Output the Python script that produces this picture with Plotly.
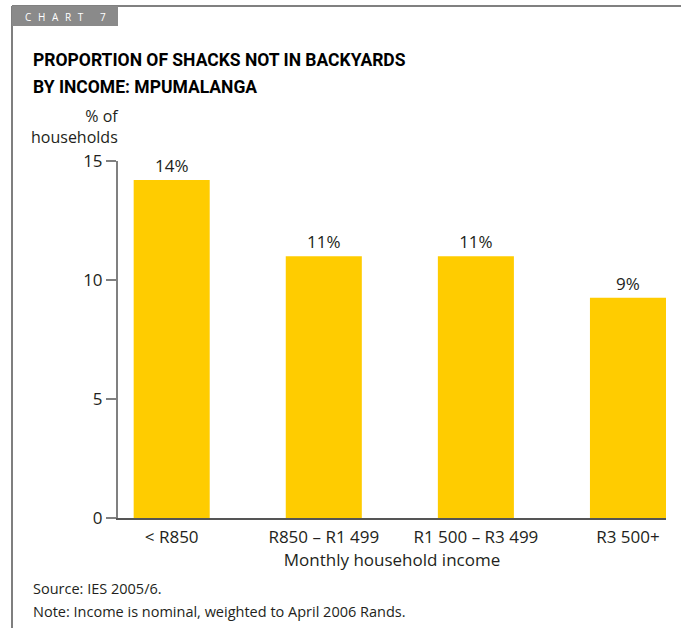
import plotly.graph_objects as go

categories = ["< R850", "R850 – R1 499", "R1 500 – R3 499", "R3 500+"]
values = [14.2, 11.0, 11.0, 9.25]
labels = ["14%", "11%", "11%", "9%"]
y_ticks = [0, 5, 10, 15]

FONT = "Open Sans"
TXT = "#231f20"

# plot-area geometry in pixels (for placing paper-referenced decorations)
L, R, T, B = 118, 666, 161, 518
W, H = R - L, B - T


def px(x):
    return (x - L) / W


def py(y):
    return (B - y) / H


fig = go.Figure()
fig.add_trace(go.Bar(
    x=list(range(len(categories))), y=values,
    marker=dict(color="#FFCC00", line=dict(width=0)),
    text=labels, textposition="outside", cliponaxis=False,
    textfont=dict(family=FONT, size=17, color=TXT),
    width=0.5,
))

fig.update_layout(
    width=681, height=628,
    margin=dict(l=L, r=681 - R, t=T, b=628 - B),
    paper_bgcolor="white", plot_bgcolor="white",
    showlegend=False,
    font=dict(family=FONT, size=17, color=TXT),
    xaxis=dict(
        range=[-0.353, 3.25], tickmode="array",
        tickvals=list(range(len(categories))), ticktext=categories,
        showline=True, linecolor="#555555", linewidth=2,
        ticks="", showgrid=False, zeroline=False, ticklabelstandoff=3,
        tickfont=dict(family=FONT, size=17, color=TXT),
        title=dict(text="Monthly household income", standoff=5,
                   font=dict(family=FONT, size=17, color=TXT)),
    ),
    yaxis=dict(
        range=[0, 15], tickvals=y_ticks,
        showline=True, linecolor="#808080", linewidth=2,
        ticks="outside", ticklen=10, tickwidth=2, tickcolor="#808080",
        showgrid=False, zeroline=False,
        tickfont=dict(family=FONT, size=17, color=TXT),
    ),
)

# frame lines
fig.add_shape(type="line", xref="paper", yref="paper", x0=px(12), x1=px(700),
              y0=py(6), y1=py(6), line=dict(color="#808080", width=2))
fig.add_shape(type="line", xref="paper", yref="paper", x0=px(12), x1=px(12),
              y0=py(640), y1=py(6), line=dict(color="#555555", width=1.5))
# chart tab
fig.add_shape(type="rect", xref="paper", yref="paper", x0=px(12), x1=px(118),
              y0=py(26), y1=py(6), fillcolor="#8a8a8a", line=dict(width=0))
fig.add_annotation(xref="paper", yref="paper", x=px(23), y=py(16.5),
                   text="C\u2002\u2009H\u2002\u2009A\u2002\u2009R\u2002\u2009T\u2003\u2002\u20097",
                   showarrow=False, xanchor="left", yanchor="middle",
                   font=dict(family=FONT, size=10, color="white"))
# title
TITLE_FONT = dict(family="Liberation Sans Narrow, Roboto", size=17.5, color="black")
fig.add_annotation(xref="paper", yref="paper", x=px(31), y=py(60),
                   text="<b>PROPORTION OF SHACKS NOT IN BACKYARDS</b>",
                   showarrow=False, xanchor="left", yanchor="middle", font=TITLE_FONT)
fig.add_annotation(xref="paper", yref="paper", x=px(31), y=py(87),
                   text="<b>BY INCOME: MPUMALANGA</b>",
                   showarrow=False, xanchor="left", yanchor="middle", font=TITLE_FONT)
# y axis title
fig.add_annotation(xref="paper", yref="paper", x=px(121), y=py(127),
                   text="% of<br>households", showarrow=False, xanchor="right", yanchor="middle",
                   align="right", font=dict(family=FONT, size=16, color=TXT))
# notes
fig.add_annotation(xref="paper", yref="paper", x=px(31), y=py(588),
                   text="Source: IES 2005/6.", showarrow=False, xanchor="left", yanchor="middle",
                   font=dict(family=FONT, size=14.5, color=TXT))
fig.add_annotation(xref="paper", yref="paper", x=px(31), y=py(611),
                   text="Note: Income is nominal, weighted to April 2006 Rands.", showarrow=False,
                   xanchor="left", yanchor="middle", font=dict(family=FONT, size=14.5, color=TXT))

fig.write_html("out.html")
